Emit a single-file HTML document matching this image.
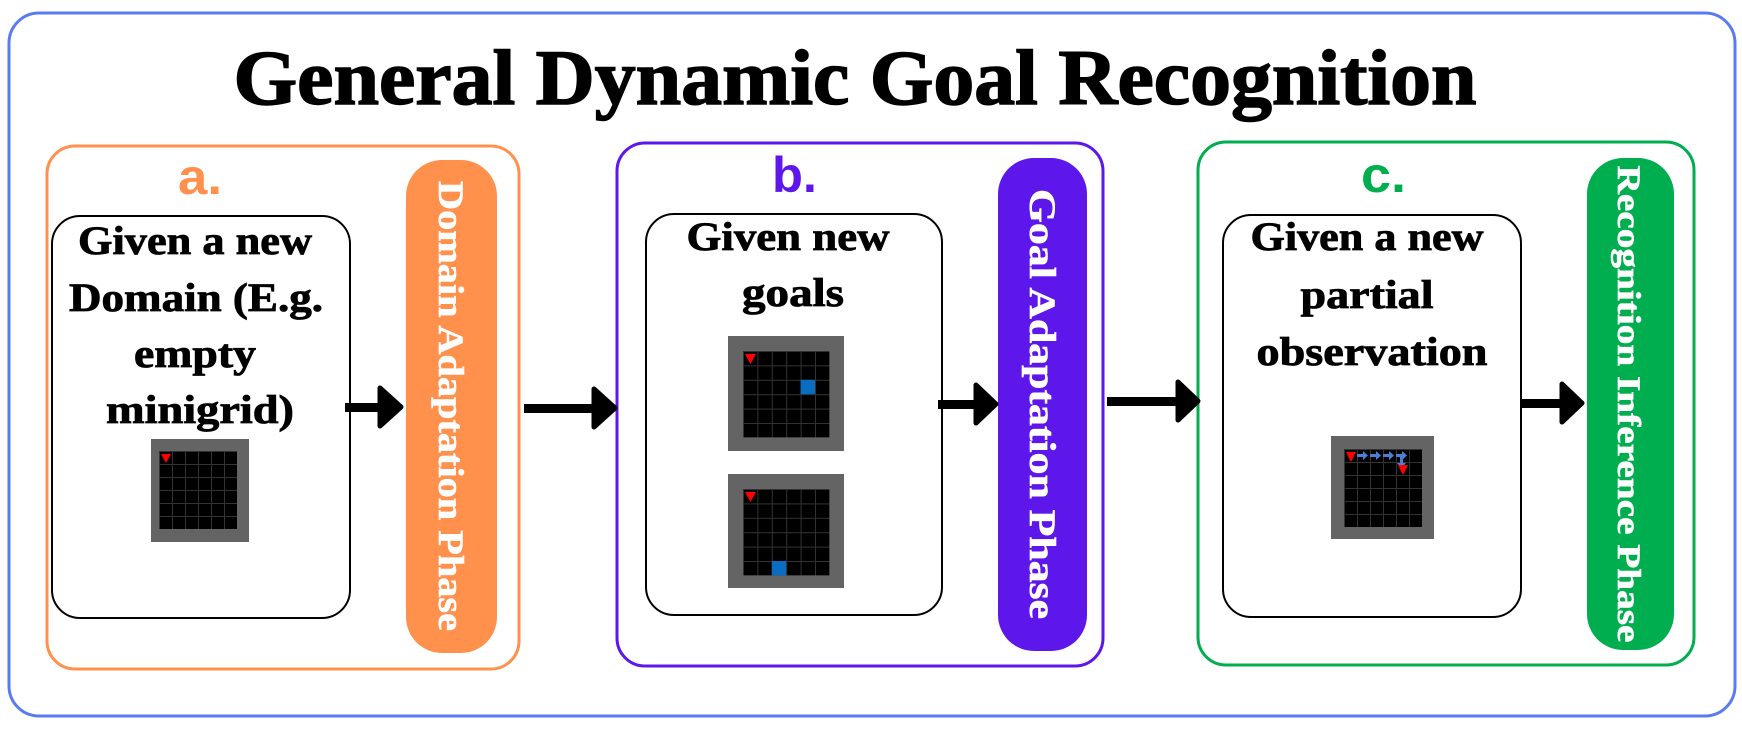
<!DOCTYPE html>
<html><head><meta charset="utf-8"><style>
html,body{margin:0;padding:0;background:#fff;}
svg{display:block;}
.t{font-family:"Liberation Serif",serif;font-weight:bold;fill:#000;stroke:#000;stroke-width:0.8;}
.p{font-family:"Liberation Serif",serif;font-weight:bold;fill:#fff;stroke:#fff;stroke-width:0.6;}
.l{font-family:"Liberation Sans",sans-serif;font-weight:bold;}
</style></head><body>
<svg width="1742" height="733" viewBox="0 0 1742 733" xmlns="http://www.w3.org/2000/svg">
<defs>
<pattern id="ga" x="159" y="451" width="13" height="13" patternUnits="userSpaceOnUse"><rect width="13" height="13" fill="#000"/><path d="M0 0.5H13M0.5 0V13" stroke="#333" stroke-width="1"/></pattern>
<pattern id="gb1" x="743" y="351" width="14.4" height="14.4" patternUnits="userSpaceOnUse"><rect width="14.4" height="14.4" fill="#000"/><path d="M0 0.5H14.4M0.5 0V14.4" stroke="#333" stroke-width="1"/></pattern>
<pattern id="gb2" x="743" y="489" width="14.4" height="14.4" patternUnits="userSpaceOnUse"><rect width="14.4" height="14.4" fill="#000"/><path d="M0 0.5H14.4M0.5 0V14.4" stroke="#333" stroke-width="1"/></pattern>
<pattern id="gc" x="1344" y="449" width="13" height="13" patternUnits="userSpaceOnUse"><rect width="13" height="13" fill="#000"/><path d="M0 0.5H13M0.5 0V13" stroke="#333" stroke-width="1"/></pattern>
</defs>

<rect x="9" y="13" width="1726" height="703" rx="30" fill="#fff" stroke="#5B7BF0" stroke-width="3"/>
<text class="t" x="855" y="104" font-size="78" text-anchor="middle" textLength="1243" lengthAdjust="spacingAndGlyphs" style="stroke-width:1.5">General Dynamic Goal Recognition</text>

<!-- Panel a -->
<rect x="47" y="146" width="472" height="523" rx="28" fill="#fff" stroke="#FF914D" stroke-width="3"/>
<text class="l" x="178" y="194" font-size="50" fill="#FF914D" textLength="44" lengthAdjust="spacingAndGlyphs">a.</text>
<rect x="52" y="216" width="298" height="402" rx="28" fill="#fff" stroke="#000" stroke-width="2"/>
<text class="t" font-size="40" text-anchor="middle">
<tspan x="200" y="254" textLength="234" lengthAdjust="spacingAndGlyphs">Given a new</tspan>
<tspan x="201" y="311" textLength="254" lengthAdjust="spacingAndGlyphs">Domain (E.g.</tspan>
<tspan x="200" y="367" textLength="122" lengthAdjust="spacingAndGlyphs">empty</tspan>
<tspan x="200" y="423" textLength="188" lengthAdjust="spacingAndGlyphs">minigrid)</tspan>
</text>
<rect x="151" y="439" width="98" height="103" fill="#646464"/>
<rect x="159" y="451" width="78" height="78" fill="url(#ga)"/>
<polygon points="161,454 171,454 166,463" fill="#f00"/>
<rect x="406" y="160" width="91" height="493" rx="36" fill="#FF914D"/>
<text class="p" font-size="36" transform="translate(439,406) rotate(90)" text-anchor="middle" textLength="450" lengthAdjust="spacingAndGlyphs">Domain Adaptation Phase</text>

<!-- Panel b -->
<rect x="617" y="143" width="486" height="523" rx="28" fill="#fff" stroke="#5E17EB" stroke-width="3"/>
<text class="l" x="772" y="192" font-size="50" fill="#5E17EB" textLength="45" lengthAdjust="spacingAndGlyphs">b.</text>
<rect x="646" y="214" width="296" height="401" rx="28" fill="#fff" stroke="#000" stroke-width="2"/>
<text class="t" font-size="40" text-anchor="middle">
<tspan x="793" y="250" textLength="203" lengthAdjust="spacingAndGlyphs">Given new</tspan>
<tspan x="793" y="306" textLength="102" lengthAdjust="spacingAndGlyphs">goals</tspan>
</text>
<rect x="728" y="336" width="116" height="115" fill="#646464"/>
<rect x="743" y="351" width="86.4" height="86.4" fill="url(#gb1)"/>
<rect x="800.6" y="379.8" width="14.4" height="14.4" fill="#0A6DC2"/>
<polygon points="745,354 756,354 750.5,364" fill="#f00"/>
<rect x="728" y="474" width="116" height="114" fill="#646464"/>
<rect x="743" y="489" width="86.4" height="86.4" fill="url(#gb2)"/>
<rect x="771.8" y="561" width="14.4" height="14.4" fill="#0A6DC2"/>
<polygon points="745,492 756,492 750.5,502" fill="#f00"/>
<rect x="998" y="158" width="89" height="493" rx="36" fill="#5E17EB"/>
<text class="p" font-size="37" transform="translate(1030,404) rotate(90)" text-anchor="middle" textLength="430" lengthAdjust="spacingAndGlyphs">Goal Adaptation Phase</text>

<!-- Panel c -->
<rect x="1198" y="142" width="496" height="523" rx="28" fill="#fff" stroke="#00AD4F" stroke-width="3"/>
<text class="l" x="1361" y="192" font-size="50" fill="#00AD4F" textLength="45" lengthAdjust="spacingAndGlyphs">c.</text>
<rect x="1223" y="215" width="298" height="402" rx="28" fill="#fff" stroke="#000" stroke-width="2"/>
<text class="t" font-size="40" text-anchor="middle">
<tspan x="1372" y="250" textLength="233" lengthAdjust="spacingAndGlyphs">Given a new</tspan>
<tspan x="1372" y="308" textLength="133" lengthAdjust="spacingAndGlyphs">partial</tspan>
<tspan x="1372" y="365" textLength="231" lengthAdjust="spacingAndGlyphs">observation</tspan>
</text>
<rect x="1331" y="436" width="103" height="103" fill="#646464"/>
<rect x="1344" y="449" width="78" height="78" fill="url(#gc)"/>
<polygon points="1346,452 1356,452 1351,462" fill="#f00"/>
<g fill="#4A7FD4">
<path d="M1357,454h6v-3l5,4.5l-5,4.5v-3h-6z"/>
<path d="M1370,454h6v-3l5,4.5l-5,4.5v-3h-6z"/>
<path d="M1383,454h6v-3l5,4.5l-5,4.5v-3h-6z"/>
<path d="M1396,454h6v-3l5,4.5l-5,4.5v-3h-6z"/>
<path d="M1400,457h3v6h3l-4.5,5l-4.5-5h3z"/>
</g>
<polygon points="1398,465 1408,465 1403,475" fill="#f00"/>
<rect x="1587" y="158" width="87" height="492" rx="36" fill="#00AD4F"/>
<text class="p" font-size="33" transform="translate(1618,404) rotate(90)" text-anchor="middle" textLength="477" lengthAdjust="spacingAndGlyphs">Recognition Inference Phase</text>

<!-- Arrows -->
<g fill="#000" stroke="#000" stroke-width="5" stroke-linejoin="round">
<rect x="345" y="403" width="36" height="9" stroke="none"/>
<polygon points="380,388 401,407 380,426"/>
<rect x="524" y="404" width="72" height="9" stroke="none"/>
<polygon points="594,389 615,408 594,427"/>
<rect x="938" y="400" width="40" height="9" stroke="none"/>
<polygon points="976,385 996,404 976,423"/>
<rect x="1107" y="397" width="73" height="9" stroke="none"/>
<polygon points="1178,382 1198,401 1178,420"/>
<rect x="1522" y="399" width="42" height="9" stroke="none"/>
<polygon points="1562,384 1582,403 1562,422"/>
</g>
</svg>
</body></html>
